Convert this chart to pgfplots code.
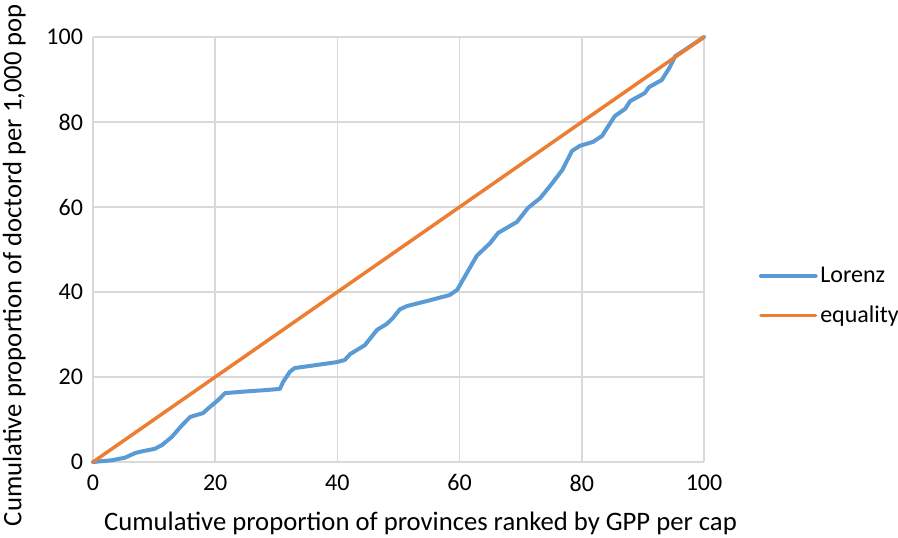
\documentclass[border=0pt]{standalone}
\usepackage{fontspec}
\setmainfont{Carlito}
\usepackage{pgfplots}
\pgfplotsset{compat=1.18}
\definecolor{lorenzblue}{RGB}{91,155,213}
\definecolor{equalorange}{RGB}{237,125,49}
\definecolor{gridgray}{RGB}{217,217,217}

\begin{document}
\begin{tikzpicture}
\begin{axis}[
    scale only axis,
    width=458.25pt, height=318.75pt,
    xmin=0, xmax=100, ymin=0, ymax=100,
    xtick={0,20,...,100}, ytick={0,20,...,100},
    grid=major,
    grid style={gridgray, line width=1.1pt},
    axis line style={draw=none},
    major tick length=0pt,
    /pgf/number format/assume math mode=true,
    tick label style={font=\fontsize{18}{21}\selectfont, black},
    xticklabel style={yshift=-6pt},
    yticklabel style={xshift=-4pt},
    label style={font=\fontsize{20}{24}\selectfont},
    xlabel={Cumulative proportion of provinces ranked by GPP per cap},
    ylabel={Cumulative proportion of doctord per 1,000 pop},
    xlabel style={at={(axis description cs:0.536,0)}, anchor=base, yshift=-51pt},
    ylabel style={at={(axis description cs:-0.1026,0.4635)}, anchor=south},
    legend style={draw=none, fill=none, at={(axis description cs:1,0.39)}, anchor=west,
        xshift=38pt, font=\fontsize{18}{21}\selectfont, row sep=12pt,
        legend cell align=left},
    legend image code/.code={\draw[#1] (0pt,0pt) -- (41pt,0pt);},
    clip=false,
]
\addplot[lorenzblue, line width=3pt, line join=round, line cap=round] coordinates {
(0,0) (3,0.4) (5.2,1) (6.9,2.1) (8,2.5) (10.1,3.1) (11.3,4) (12.9,5.9)
(14.6,8.7) (15.9,10.6) (18,11.5) (19.1,12.9) (20.5,14.6) (21.6,16.2)
(25,16.6) (28.1,16.9) (30.6,17.2) (31.1,18.8) (32.2,21.2) (33,22.1)
(36,22.7) (39.9,23.5) (41.2,24) (42.1,25.4) (44.5,27.5) (46.5,31.1)
(48.1,32.5) (49.1,33.9) (50.2,35.9) (51.4,36.7) (55,38) (58.4,39.3)
(59.6,40.5) (61.2,44.5) (62.8,48.5) (65,51.5) (66.3,53.9) (69.4,56.5)
(71.2,59.8) (73.2,62.1) (75,65.3) (76.8,68.7) (78.4,73.2) (79.7,74.4)
(81.8,75.3) (83.3,76.7) (85.4,81.4) (87.1,83.1) (87.9,84.9) (90.3,86.8)
(91,88.2) (93.1,89.9) (94.4,92.9) (95.3,95.5) (96.4,96.5) (100,100)
};
\addplot[equalorange, line width=2.6pt, line cap=round] coordinates {(0,0) (100,100)};
\legend{Lorenz, equality}
\coordinate (sw) at (rel axis cs:0,0);
\coordinate (ne) at (rel axis cs:1,1);
\end{axis}
\pgfresetboundingbox
\path ([shift={(-69.75pt,-57pt)}]sw) rectangle ([shift={(145.5pt,27.75pt)}]ne);
\end{tikzpicture}
\end{document}
